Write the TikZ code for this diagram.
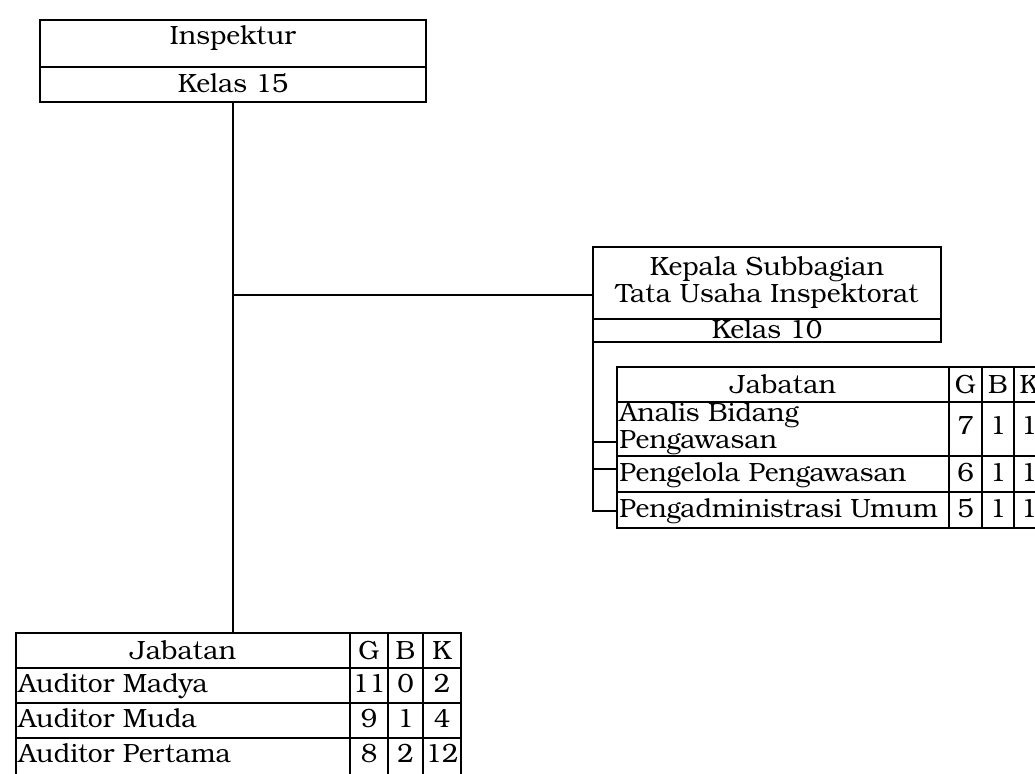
\documentclass[tikz,border=0pt]{standalone}
\usepackage{fontspec}
\setmainfont{TeX Gyre Bonum}
\begin{document}
\begin{tikzpicture}[x=0.5pt,y=-0.5pt,
  box/.style={draw,line width=0.9pt,inner sep=0pt,outer sep=0pt,anchor=north west},
  grid/.style={line width=0.8pt},
  conn/.style={line width=0.9pt},
  txt/.style={inner sep=0pt,anchor=base,font=\fontsize{13.2}{13.5}\selectfont},
  ltxt/.style={txt,anchor=base west}]
\clip (0,0) rectangle (1035,774);
\fill[white] (0,0) rectangle (1035,774);
% Inspektur box
\node[box,minimum width=193pt,minimum height=41pt] (insp) at (40,20) {};
\draw[grid] (40,67) -- (426,67);
\node[txt] (inspT) at (233,45) {Inspektur};
\node[txt] (inspK) at (233,93) {Kelas 15};
% Kepala box
\node[box,minimum width=174pt,minimum height=47.5pt] (kep) at (593,247) {};
\draw[grid] (593,319) -- (941,319);
\node[txt] (kepT1) at (767,276) {Kepala Subbagian};
\node[txt] (kepT2) at (767,303) {Tata Usaha Inspektorat};
\node[txt] (kepK) at (767,339) {Kelas 10};
% left table
\node[box,minimum width=222.5pt,minimum height=72.5pt] (tabL) at (16,633) {};
\foreach \yy in {668,703,738} \draw[grid] (16,\yy) -- (461,\yy);
\foreach \xx in {350,388,423} \draw[grid] (\xx,633) -- (\xx,778);
\node[txt] (lh) at (183,660) {Jabatan};
\node[txt] (lg) at (369,660) {G};
\node[txt] (lb) at (405.5,660) {B};
\node[txt] (lk) at (442,660) {K};
\node[ltxt] (l1) at (18,693) {Auditor Madya};
\node[txt] at (369,693) {11};
\node[txt] at (405.5,693) {0};
\node[txt] at (442,693) {2};
\node[ltxt] (l2) at (18,728) {Auditor Muda};
\node[txt] at (369,728) {9};
\node[txt] at (405.5,728) {1};
\node[txt] at (442,728) {4};
\node[ltxt] (l3) at (18,763) {Auditor Pertama};
\node[txt] at (369,763) {8};
\node[txt] at (405.5,763) {2};
\node[txt] at (442,763) {12};
% right table
\node[box,minimum width=214pt,minimum height=80.5pt] (tabR) at (617,367) {};
\foreach \yy in {402,456,492} \draw[grid] (617,\yy) -- (1045,\yy);
\foreach \xx in {949,982,1014} \draw[grid] (\xx,367) -- (\xx,528);
\node[txt] (rh) at (783,394) {Jabatan};
\node[txt] (rg) at (965.5,394) {G};
\node[txt] (rb) at (998,394) {B};
\node[txt] (rk) at (1029,394) {K};
\node[ltxt] (r1a) at (619,422) {Analis Bidang};
\node[ltxt] (r1b) at (619,449) {Pengawasan};
\node[txt] at (965.5,435) {7};
\node[txt] at (998,435) {1};
\node[txt] at (1029,435) {1};
\node[ltxt] (r2) at (619,482) {Pengelola Pengawasan};
\node[txt] at (965.5,482) {6};
\node[txt] at (998,482) {1};
\node[txt] at (1029,482) {1};
\node[ltxt] (r3) at (619,518) {Pengadministrasi Umum};
\node[txt] at (965.5,518) {5};
\node[txt] at (998,518) {1};
\node[txt] at (1029,518) {1};
% connectors
\coordinate (hub) at (insp.south |- 0,295);
\draw[conn] (insp.south) -- (insp.south |- tabL.north);
\draw[conn] (hub) -- (hub -| kep.west);
\coordinate (trunkTop) at (kep.south west);
\coordinate (b1) at (593,442);
\coordinate (b2) at (593,469);
\coordinate (b3) at (593,511);
\draw[conn] (trunkTop) -- (b3) -- (b3 -| tabR.west);
\draw[conn] (b1) -- (b1 -| tabR.west);
\draw[conn] (b2) -- (b2 -| tabR.west);
\end{tikzpicture}
\end{document}
